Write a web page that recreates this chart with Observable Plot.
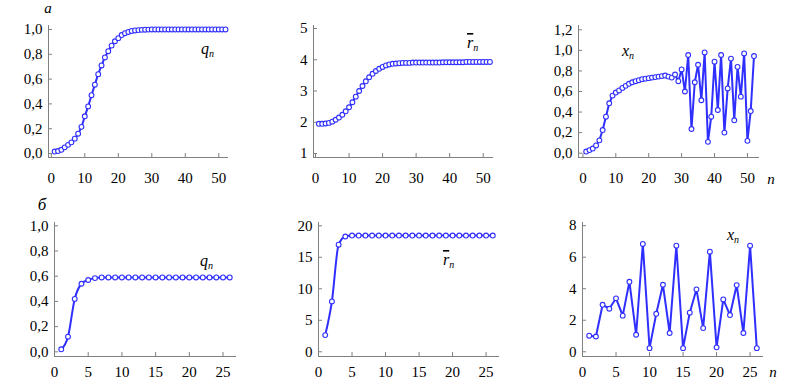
<!DOCTYPE html>
<html><head><meta charset="utf-8">
<script src="https://cdn.jsdelivr.net/npm/d3@7"></script>
<script src="https://cdn.jsdelivr.net/npm/@observablehq/plot@0.6"></script>
<style>
body{margin:0;background:#fff;}
#root{position:relative;width:797px;height:382px;overflow:hidden;background:#fff;}
#labels{position:absolute;left:0;top:0;pointer-events:none;}
#labels text{font-family:"Liberation Serif","Times New Roman",serif;font-style:italic;fill:#000;}
</style></head>
<body><div id="root"></div>
<script>
// ---- data ----
const nTop = [1,2,3,4,5,6,7,8,9,10,11,12,13,14,15,16,17,18,19,20,21,22,23,24,25,26,27,28,29,30,31,32,33,34,35,36,37,38,39,40,41,42,43,44,45,46,47,48,49,50,51,52];
const nBottom = [1,2,3,4,5,6,7,8,9,10,11,12,13,14,15,16,17,18,19,20,21,22,23,24,25,26];

const qTop = [0.016,0.02,0.03,0.05,0.07,0.09,0.12,0.16,0.215,0.30,
  0.38,0.47,0.555,0.64,0.71,0.775,0.825,0.87,0.905,0.93,
  0.955,0.97,0.98,0.988,0.992,0.995,0.997,0.998,0.999,1.0,
  1.0,1.0,1.0,1.0,1.0,1.0,1.0,1.0,1.0,1.0,
  1.0,1.0,1.0,1.0,1.0,1.0,1.0,1.0,1.0,1.0,
  1.0,1.0];
const rTop = [1.95,1.95,1.96,1.98,2.02,2.08,2.15,2.24,2.35,2.48,
  2.64,2.82,3.0,3.16,3.31,3.44,3.55,3.64,3.71,3.77,
  3.82,3.85,3.87,3.88,3.89,3.9,3.9,3.9,3.91,3.91,
  3.91,3.91,3.91,3.91,3.91,3.91,3.91,3.92,3.92,3.92,
  3.92,3.92,3.92,3.92,3.93,3.93,3.93,3.93,3.93,3.93,
  3.93,3.93];
const xTop = [0.016,0.03,0.045,0.075,0.125,0.225,0.355,0.485,0.56,0.59,
  0.61,0.635,0.655,0.675,0.69,0.70,0.71,0.72,0.725,0.73,
  0.735,0.74,0.745,0.75,0.755,0.745,0.735,0.765,0.70,0.815,
  0.60,0.955,0.235,0.69,0.86,0.515,0.98,0.11,0.355,0.89,
  0.42,0.955,0.20,0.63,0.92,0.32,0.84,0.55,0.97,0.12,
  0.41,0.945];

const qBottom = [0.02,0.12,0.42,0.54,0.57,0.585,0.59,0.59,0.59,0.59,
  0.59,0.59,0.59,0.59,0.59,0.59,0.59,0.59,0.59,0.59,
  0.59,0.59,0.59,0.59,0.59,0.59];
const rBottom = [2.65,8.0,17.0,18.3,18.45,18.45,18.45,18.45,18.45,18.45,
  18.45,18.45,18.45,18.45,18.45,18.45,18.45,18.45,18.45,18.45,
  18.45,18.45,18.45,18.45,18.45,18.45];
const xBottom = [1.02,0.97,2.98,2.73,3.39,2.29,4.44,1.08,6.84,0.23,
  2.41,4.25,1.19,6.73,0.23,2.48,3.96,1.5,6.35,0.28,
  3.32,2.33,4.23,1.19,6.73,0.23];

const xTicksTop = [0,10,20,30,40,50];
const xTicksBottom = [0,5,10,15,20,25];
const yTicksQ = [0,0.2,0.4,0.6,0.8,1.0];
const yTicksRTop = [1,2,3,4,5];
const yTicksXTop = [0,0.2,0.4,0.6,0.8,1.0,1.2];
const yTicksRBottom = [0,5,10,15,20];
const yTicksXBottom = [0,2,4,6,8];

// ---- drawing ----
const BLUE = "#2f2fff";
const AXIS = "#808080";
const FONT = '"Liberation Serif","Times New Roman",serif';
const comma = d => d.toFixed(1).replace(".", ",");
const plain = d => String(d);
const toRows = (ns, vs) => ns.map((n, i) => ({n, v: vs[i]}));
const root = document.getElementById("root");

function panel(cfg) {
  const ml = 46, mt = 8, mr = 14, mb = 32;
  const data = toRows(cfg.n, cfg.v);
  const chart = Plot.plot({
    width: cfg.fw + ml + mr, height: cfg.fh + mt + mb,
    marginLeft: ml, marginRight: mr, marginTop: mt, marginBottom: mb,
    style: {fontFamily: FONT, fontSize: "15px", color: "#000", background: "transparent", overflow: "visible"},
    x: {domain: cfg.xDomain, label: null},
    y: {domain: cfg.yDomain, label: null},
    marks: [
      Plot.ruleX([cfg.xDomain[0]], {stroke: AXIS, strokeWidth: 1}),
      Plot.ruleY([cfg.yDomain[0]], {stroke: AXIS, strokeWidth: 1}),
      Plot.axisX(cfg.xTicks, {tickSize: -4, tickPadding: cfg.xPad, stroke: AXIS, fill: "#000", tickFormat: plain}),
      Plot.axisY(cfg.yTicks, {tickSize: -4, tickPadding: 10, stroke: AXIS, fill: "#000", tickFormat: cfg.yFormat}),
      Plot.line(data, {x: "n", y: "v", stroke: BLUE, strokeWidth: 2, curve: cfg.curve}),
      Plot.dot(data, {x: "n", y: "v", r: 2.4, stroke: BLUE, fill: "#fff", strokeWidth: 1.1})
    ]
  });
  chart.style.position = "absolute";
  chart.style.left = (cfg.left - ml) + "px";
  chart.style.top = (cfg.top - mt) + "px";
  root.appendChild(chart);
}

panel({n: nTop, v: qTop, left: 48, top: 25, fw: 180, fh: 132, xDomain: [-0.84, 52.9], yDomain: [-0.032, 1.032], xTicks: xTicksTop, yTicks: yTicksQ, yFormat: comma, curve: "monotone-x", xPad: 19});
panel({n: nTop, v: rTop, left: 313, top: 25, fw: 180, fh: 132, xDomain: [-0.6, 53.07], yDomain: [0.872, 5.096], xTicks: xTicksTop, yTicks: yTicksRTop, yFormat: plain, curve: "monotone-x", xPad: 19});
panel({n: nTop, v: xTop, left: 578, top: 25, fw: 181, fh: 132, xDomain: [-1.34, 53.67], yDomain: [-0.042, 1.242], xTicks: xTicksTop, yTicks: yTicksXTop, yFormat: comma, curve: "linear", xPad: 19});
panel({n: nBottom, v: qBottom, left: 54, top: 222, fw: 182, fh: 134, xDomain: [0, 27], yDomain: [-0.037, 1.026], xTicks: xTicksBottom, yTicks: yTicksQ, yFormat: comma, curve: "monotone-x", xPad: 14});
panel({n: nBottom, v: rBottom, left: 318, top: 222, fw: 181, fh: 134, xDomain: [0, 27], yDomain: [-0.75, 20.52], xTicks: xTicksBottom, yTicks: yTicksRBottom, yFormat: plain, curve: "monotone-x", xPad: 14});
panel({n: nBottom, v: xBottom, left: 582, top: 222, fw: 181, fh: 134, xDomain: [0, 27], yDomain: [-0.3, 8.2], xTicks: xTicksBottom, yTicks: yTicksXBottom, yFormat: plain, curve: "linear", xPad: 14});

// ---- text labels ----
const svgNS = "http://www.w3.org/2000/svg";
const lab = document.createElementNS(svgNS, "svg");
lab.setAttribute("id", "labels");
lab.setAttribute("width", 797);
lab.setAttribute("height", 382);
lab.innerHTML = `
<text x="48" y="13" font-size="15" text-anchor="middle">а</text>
<text x="42" y="210" font-size="17" text-anchor="middle">б</text>
<text x="201" y="54" font-size="16">q<tspan font-size="10" dy="3">n</tspan></text>
<text x="467" y="48" font-size="16"><tspan text-decoration="overline">r</tspan><tspan font-size="10" dy="3">n</tspan></text>
<text x="622" y="56" font-size="16">x<tspan font-size="10" dy="3">n</tspan></text>
<text x="200" y="266" font-size="16">q<tspan font-size="10" dy="3">n</tspan></text>
<text x="443" y="265" font-size="16"><tspan text-decoration="overline">r</tspan><tspan font-size="10" dy="3">n</tspan></text>
<text x="727" y="240" font-size="16">x<tspan font-size="10" dy="3">n</tspan></text>
<text x="771" y="184" font-size="15" text-anchor="middle">n</text>
<text x="773" y="377" font-size="15" text-anchor="middle">n</text>
`;
root.appendChild(lab);
</script>
</body></html>
